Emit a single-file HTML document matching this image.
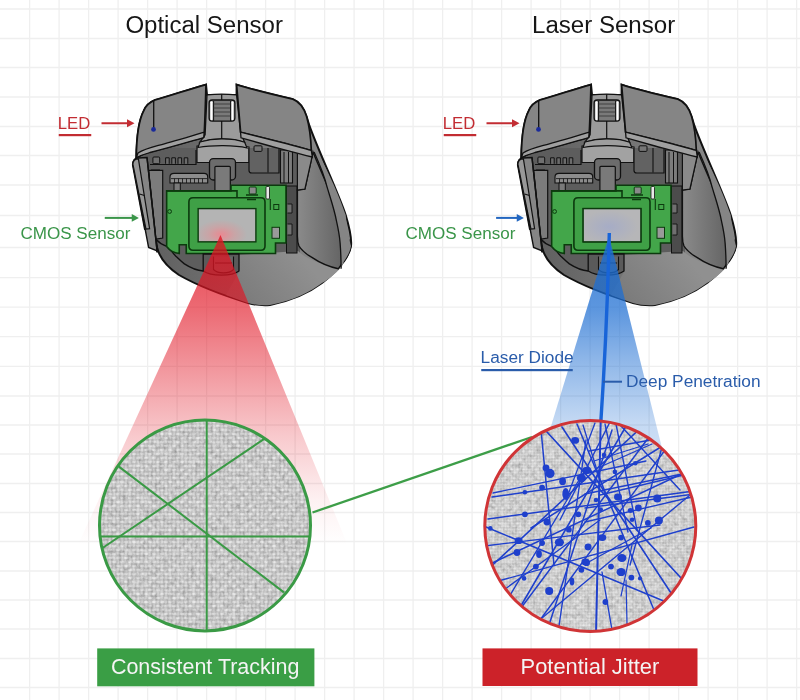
<!DOCTYPE html>
<html><head><meta charset="utf-8"><style>
html,body{margin:0;padding:0;background:#fff;}
svg{display:block;will-change:transform;}
text{font-family:"Liberation Sans",sans-serif;}
</style></head><body>
<svg width="800" height="700" viewBox="0 0 800 700">
<defs>
 <radialGradient id="gWinB" cx="0.45" cy="0.55" r="0.5"><stop offset="0" stop-color="#a6acc6"/><stop offset="1" stop-color="#b6b6b8"/></radialGradient>
 <linearGradient id="gBody" x1="150" y1="0" x2="330" y2="0" gradientUnits="userSpaceOnUse">
  <stop offset="0" stop-color="#5f5f5f"/><stop offset="0.5" stop-color="#747474"/><stop offset="1" stop-color="#8a8a8a"/>
 </linearGradient>
 <linearGradient id="gGrip" x1="298" y1="0" x2="340" y2="0" gradientUnits="userSpaceOnUse">
  <stop offset="0" stop-color="#8a8a8a"/><stop offset="1" stop-color="#666"/>
 </linearGradient>
 <linearGradient id="gShell" x1="300" y1="255" x2="240" y2="305" gradientUnits="userSpaceOnUse">
  <stop offset="0" stop-color="#909090"/><stop offset="1" stop-color="#7a7a7a"/>
 </linearGradient>
 <radialGradient id="gWin" cx="0.4" cy="0.78" r="0.45">
  <stop offset="0" stop-color="#e88a92"/><stop offset="0.5" stop-color="#c9a4a6"/><stop offset="1" stop-color="#b4b4b4"/>
 </radialGradient>
 <linearGradient id="gRed" x1="0" y1="235" x2="0" y2="545" gradientUnits="userSpaceOnUse">
  <stop offset="0" stop-color="#e11423" stop-opacity="0.8"/>
  <stop offset="0.242" stop-color="#e11423" stop-opacity="0.63"/>
  <stop offset="0.426" stop-color="#e11423" stop-opacity="0.45"/>
  <stop offset="0.648" stop-color="#e11423" stop-opacity="0.23"/>
  <stop offset="0.855" stop-color="#e11423" stop-opacity="0.06"/>
  <stop offset="1" stop-color="#e11423" stop-opacity="0.0"/>
 </linearGradient>
 <linearGradient id="gBlue" x1="0" y1="234" x2="0" y2="460" gradientUnits="userSpaceOnUse">
  <stop offset="0" stop-color="#1e6ed2" stop-opacity="0.85"/>
  <stop offset="0.336" stop-color="#1e6ed2" stop-opacity="0.72"/>
  <stop offset="0.558" stop-color="#1e6ed2" stop-opacity="0.5"/>
  <stop offset="0.836" stop-color="#1e6ed2" stop-opacity="0.26"/>
  <stop offset="1" stop-color="#1e6ed2" stop-opacity="0.2"/>
 </linearGradient>
 <pattern id="weave" width="8" height="8" patternUnits="userSpaceOnUse">
  <rect width="8" height="8" fill="#939393"/>
  <rect x="0.2" y="0.4" width="3.6" height="3.0" rx="1.3" fill="#d6d6d6"/>
  <rect x="4.2" y="4.4" width="3.6" height="3.0" rx="1.3" fill="#d6d6d6"/>
  <rect x="4.4" y="0.2" width="3.0" height="3.6" rx="1.3" fill="#c0c0c0"/>
  <rect x="0.4" y="4.2" width="3.0" height="3.6" rx="1.3" fill="#c0c0c0"/>
 </pattern>
 <pattern id="weave2" width="6" height="6" patternUnits="userSpaceOnUse">
  <rect width="6" height="6" fill="#a9a9a9"/>
  <rect x="0.2" y="0.3" width="2.6" height="2.3" rx="1" fill="#d6d6d6"/>
  <rect x="3.2" y="3.3" width="2.6" height="2.3" rx="1" fill="#d6d6d6"/>
  <rect x="3.3" y="0.2" width="2.3" height="2.6" rx="1" fill="#c8c8c8"/>
  <rect x="0.3" y="3.2" width="2.3" height="2.6" rx="1" fill="#c8c8c8"/>
 </pattern>
 <filter id="noise" x="0" y="0" width="100%" height="100%">
  <feTurbulence type="fractalNoise" baseFrequency="0.22" numOctaves="3" seed="5" result="t"/>
  <feColorMatrix type="matrix" values="1.2 0 0 0 0.15  1.2 0 0 0 0.15  1.2 0 0 0 0.15  0 0 0 0 0.45" />
 </filter>
 <g id="mouse">
 <!-- silhouette -->
 <path id="sil" d="M136.3,157.7 C136.5,140 139,120 143.7,110.9 C146,105 149,102.5 155.1,100 C170,96 190,89 206,84.6 L207,94.9 L236.6,94.9 L236.6,84.6 C252,89.5 275,95 292.9,99.2 C300,102 304,108 306.6,116.6 L309.4,125.7 C318,150 338,192 345.7,215 C349,226 352,238 351,246 C350,252 347,257 343.9,261.4 C337,270 330,277 322,283 C310,292 295,300 270,305 C262,305.5 255,305 248,303 C225,296 200,287 179,275 C167,267 160,259 157.2,248 C156,242 155.5,238 155.5,232 L144.9,228.9 L132.9,164.9 C133,161 135,158.5 138,158 Z" fill="url(#gBody)" stroke="#111" stroke-width="2"/>
 <!-- cavity -->
 <path d="M142,148 L300,148 L300,256 L240,258 L240,271 L203,271 C196,270.5 190,267.5 184.4,263.9 C180,260.5 178,258 175.6,256 C172,252 170,249 166.9,246.4 L157,239 L150,236 Z" fill="#5d5d5d"/>
 <!-- bottom shell right of lens -->
 <path d="M239,255 L298,251 C305,258 320,265 340.6,268 C335,274 328,280 322,283 C310,292 295,300 270,305 C262,305.5 255,305 248,303 C240,300 233,298 226,295 L239,272 Z" fill="url(#gShell)"/>
 <!-- inner rim line -->
 <path d="M155.9,239.3 C160,244 163,245 166.9,246.4 C170,249 172,252 175.6,256 C178,258 180,260.5 184.4,263.9 C190,267.5 196,270.5 203.2,271" fill="none" stroke="#111" stroke-width="1.4"/>
 <!-- middle housing lower light area -->
 <path d="M197,146 C212,143.5 234,143.5 249,147 L249,162.5 L197,162.5 Z" fill="#a2a2a2" stroke="#111" stroke-width="1.2"/>
 <!-- cavity components top-left -->
 <rect x="152.9" y="157" width="6.8" height="6.7" rx="1" fill="#707070" stroke="#111" stroke-width="1"/>
 <path d="M165.6,163.8 v-6 h3.6 v6 M171.8,163.8 v-6 h3.6 v6 M178,163.8 v-6 h3.6 v6 M184.2,163.8 v-6 h3.6 v6" fill="#6c6c6c" stroke="#111" stroke-width="1"/>
 <path d="M150,164.5 H196 V150" fill="none" stroke="#111" stroke-width="1.2"/>
 <path d="M151,170 H160" fill="none" stroke="#111" stroke-width="1"/>
 <!-- connector -->
 <path d="M170,183 V177 C170,174.5 171.5,173.4 174,173.4 H204 C206.5,173.4 207.7,174.5 207.7,177 V183 Z" fill="#8c8c8c" stroke="#111" stroke-width="1.1"/>
 <path d="M171,178.6 H207 M174.5,178.6 v4.4 M178.5,178.6 v4.4 M182.5,178.6 v4.4 M186.5,178.6 v4.4 M190.5,178.6 v4.4 M194.5,178.6 v4.4 M198.5,178.6 v4.4 M202.5,178.6 v4.4" stroke="#111" stroke-width="0.8"/>
 <rect x="174" y="183" width="6.3" height="8" fill="#7a7a7a" stroke="#111" stroke-width="1"/>
 <!-- middle lower component -->
 <rect x="209.5" y="158.6" width="26" height="21.4" rx="3.8" fill="#6c6c6c" stroke="#111" stroke-width="1.3"/>
 <rect x="214.9" y="166.3" width="15.4" height="24.5" rx="1" fill="#7a7a7a" stroke="#111" stroke-width="1.2"/>
 <!-- right top box in cavity -->
 <path d="M249,148 V170.5 C249,172.2 250,173 251.8,173 H279 V148" fill="#626262" stroke="#111" stroke-width="1.2"/>
 <path d="M268,148 V172.5" stroke="#111" stroke-width="1.1"/>
 <rect x="254" y="145.8" width="8" height="5.6" rx="1" fill="#767676" stroke="#111" stroke-width="1"/>
 <rect x="280.5" y="150" width="12" height="33" fill="#7c7c7c" stroke="#111" stroke-width="1.1"/>
 <path d="M284,152 V183 M288.5,152 V183" fill="none" stroke="#111" stroke-width="1"/>
 <!-- right strip components -->
 <rect x="286.5" y="186" width="10.5" height="67" fill="#4c4c4c" stroke="#111" stroke-width="1"/>
 <path d="M287.5,204 h4.5 v9 h-4.5 M287.5,224 h4.5 v11 h-4.5" fill="#707070" stroke="#111" stroke-width="0.9"/>
 <!-- right grip -->
 <path d="M313,152 C318,165 330,190 337,210 C343,228 349,238 351,246 C350,252 347,257 343.9,261.4 C341,265 339.5,267 338.3,268.8 C330,267 320,263 312.3,257.7 C306,254 302,251 299,246 C297.7,243 297.4,240 297.4,236 L297.4,190 L304.9,189 Z" fill="url(#gGrip)" stroke="#111" stroke-width="1.4"/>
 <path d="M314.1,151.9 C320,165 325,178 327.1,187.1 C331,200 334.5,210 336.4,220.6 C338.5,230 339.6,236 340.1,242.9 C340.8,252 341.1,260 341.1,268.8 L343.9,261.4 C347,257 350,252 351,246 C349,238 347,228 345.7,215 C338,192 325,165 316,150 Z" fill="#858585"/>
 <path d="M314.1,151.9 C320,165 325,178 327.1,187.1 C331,200 334.5,210 336.4,220.6 C338.5,230 339.6,236 340.1,242.9 C340.8,252 341.1,260 341.1,268.8" fill="none" stroke="#111" stroke-width="1.3"/>
 <!-- small right piece under right button -->
 <path d="M297.4,150 L312.3,155.6 L304.9,189 L297.4,190 Z" fill="#8a8a8a" stroke="#111" stroke-width="1.2"/>
 <!-- left side wall panel -->
 <path d="M148.6,170.4 L162.7,170.4 L162.7,238 L156,239 Z" fill="#7c7c7c" stroke="#111" stroke-width="1.2"/>
 <!-- side strip -->
 <path d="M132.9,164.2 C133,160.5 135,158.5 138.5,158 L147,157.5 L157.2,252.2 L156.4,250.6 L148.6,247.5 Z" fill="#858585" stroke="#111" stroke-width="1.4"/>
 <!-- side buttons -->
 <path d="M132.9,164.2 C133,160.5 135,158.8 138.4,158.8 L149.6,228.6 L146,229 Z" fill="#989898" stroke="#111" stroke-width="1.2"/>
 <path d="M139.5,194 L144.5,195.5" fill="none" stroke="#111" stroke-width="1.2"/>
 <path d="M147,157.5 L157.2,252.2" fill="none" stroke="#111" stroke-width="1.4"/>
 <!-- PCB -->
 <path d="M166.65,190.85 H231 V185.25 H286 V243 H275.5 V253.5 H186.25 V244.75 H179.25 V253.5 C174,253 170,251 166.65,246.5 Z" fill="#43a64a" stroke="#0c3a0e" stroke-width="1.6"/>
 <path d="M188.9,202 C188.9,199 190,197.8 193,197.8 H261 C264,197.8 265,199 265,202 V246 C265,249 264,250.2 261,250.2 H193 C190,250.2 188.9,249 188.9,246 Z" fill="#3fa046" stroke="#0c3a0e" stroke-width="1.6"/>
 <path d="M166.65,190.85 H237 V197.8" fill="none" stroke="#0c3a0e" stroke-width="1.6"/>
 <rect class="win" x="198.15" y="208.6" width="57.75" height="33.25" fill="url(#gWin)" stroke="#0c3a0e" stroke-width="1.4"/>
 <circle cx="169.6" cy="211.5" r="1.9" fill="none" stroke="#0c3a0e" stroke-width="1"/>
 <rect x="249.2" y="187" width="7" height="7" rx="1" fill="#8a8a8a" stroke="#0c3a0e" stroke-width="1"/>
 <path d="M246,195 H258 M247,199.5 H256" stroke="#0c3a0e" stroke-width="1.3"/>
 <rect x="266" y="186.5" width="3.5" height="12.5" rx="1" fill="#e8e8e8" stroke="#111" stroke-width="0.8"/>
 <path d="M270.3,199 V210" stroke="#0c3a0e" stroke-width="1.1"/>
 <rect x="273.8" y="204.5" width="5" height="5" fill="#43a64a" stroke="#0c3a0e" stroke-width="1"/>
 <rect x="272" y="227.3" width="7.5" height="11" fill="#9a9a9a" stroke="#0c3a0e" stroke-width="1"/>
 <!-- lens housing -->
 <path d="M203.2,254 H239 V271 C232,276.5 211,276.5 203.2,271 Z" fill="#5a5a5a" stroke="#111" stroke-width="1.3"/>
 <path d="M213.5,256.5 V269.5 C218,274 229,274 233.5,269.5 V256.5" fill="#676767" stroke="#111" stroke-width="1.1"/>
 <path d="M215,263 H232" stroke="#111" stroke-width="1"/>
 <!-- middle housing -->
 <path d="M207,94.9 C215,94 228,94 236.6,94.9 L240.6,132.6 L244.6,142.3 C235,139.5 225,138.9 221.7,138.9 C215,139 207,140 200,142 L205.1,134.9 Z" fill="#9b9b9b" stroke="#111" stroke-width="1.3"/>
 <path d="M200,142 C207,140 215,139 221.7,138.9 C228,138.9 238,139.5 244.6,142.3 L247,148 C235,145 212,145 198,147.5 Z" fill="#9d9d9d" stroke="#111" stroke-width="1.2"/>
 <path d="M221.7,94.3 V100 M221.7,121 V138.9" stroke="#111" stroke-width="1.2"/>
 <!-- scroll wheel -->
 <rect x="209.1" y="100" width="25.8" height="21.1" rx="3" fill="#7a7a7a" stroke="#111" stroke-width="1.3"/>
 <rect x="210.3" y="101.3" width="2.3" height="19" rx="1" fill="#fff"/>
 <rect x="231.3" y="101.3" width="2.3" height="19" rx="1" fill="#fff"/>
 <path d="M213.6,101 V121 M230.6,101 V121" stroke="#111" stroke-width="1"/>
 <path d="M213.7,104 H230.3 M213.7,108 H230.3 M213.7,112 H230.3 M213.7,116 H230.3" stroke="#3a3a3a" stroke-width="0.9"/>
 <!-- left button -->
 <path d="M136.3,157.7 C136.5,140 139,120 143.7,110.9 C146,105 149,102.5 155.1,100 C170,96 190,89 206,84.6 C205.5,100 205,120 204.3,131.4 L203.7,137.1 C190,141 170,147 150,152 C142,154 139,156 136.3,157.7 Z" fill="#858585" stroke="#111" stroke-width="1.7"/>
 <path d="M138,153 C145,148.5 155,146.5 164.3,143.8 C175,141 190,136.5 204.2,132.2 L203.7,137.6 C190,141.5 170,147.5 150,152.5 C143,154.5 139.5,156 136.3,157.7 Z" fill="#a0a0a0" stroke="#111" stroke-width="1.3"/>
 <!-- right button -->
 <path d="M236.6,84.6 C252,89.5 275,95 292.9,99.2 C300,102 304,108 306.6,116.6 C309,125 310.8,135 311.3,150.5 C300,147.5 292,145 287.1,143.8 C270,139.4 255,135.8 240.6,132.2 Z" fill="#858585" stroke="#111" stroke-width="1.7"/>
 <path d="M240.6,132.2 C255,135.8 270,139.4 287.1,143.8 C298,146.8 305,148.5 311.3,150.5 L312.3,157 C300,154 287,150.5 270,146 L241,137.8 Z" fill="#a0a0a0" stroke="#111" stroke-width="1.3"/>
 <!-- LED -->
 <path d="M153.7,100.8 V129" stroke="#111" stroke-width="1.3"/>
 <circle cx="153.5" cy="129.4" r="2.4" fill="#1a2a9a"/>
</g>

 <clipPath id="cL"><circle cx="205" cy="525.4" r="105.5"/></clipPath>
 <clipPath id="cR"><circle cx="590.3" cy="526.1" r="105.5"/></clipPath>
</defs>
<rect width="800" height="700" fill="#fff"/>
<path d="M29.6 0V700 M59.1 0V700 M88.6 0V700 M118.1 0V700 M147.6 0V700 M177.1 0V700 M206.6 0V700 M236.1 0V700 M265.6 0V700 M295.1 0V700 M324.6 0V700 M354.1 0V700 M383.6 0V700 M413.1 0V700 M442.6 0V700 M472.1 0V700 M501.6 0V700 M531.1 0V700 M560.6 0V700 M590.1 0V700 M619.6 0V700 M649.1 0V700 M678.6 0V700 M708.1 0V700 M737.6 0V700 M767.1 0V700 M796.6 0V700 M0 9.0H800 M0 38.5H800 M0 67.5H800 M0 97.0H800 M0 126.5H800 M0 155.5H800 M0 185.0H800 M0 215.5H800 M0 247.5H800 M0 277.6H800 M0 307.1H800 M0 336.7H800 M0 366.3H800 M0 396.0H800 M0 425.0H800 M0 454.0H800 M0 483.5H800 M0 512.5H800 M0 541.5H800 M0 571.0H800 M0 600.0H800 M0 629.0H800 M0 658.5H800 M0 687.5H800" stroke="#efefef" stroke-width="1.3" fill="none"/>

<text x="125.4" y="32.5" font-size="23.5" fill="#161616" textLength="157.6" lengthAdjust="spacingAndGlyphs">Optical Sensor</text>
<text x="532" y="32.5" font-size="23.5" fill="#161616" textLength="143.2" lengthAdjust="spacingAndGlyphs">Laser Sensor</text>
<text x="57.8" y="128.5" font-size="16" fill="#c22c32" textLength="32.5" lengthAdjust="spacingAndGlyphs">LED</text><rect x="58.75" y="134" width="32.5" height="2.2" fill="#c22c32"/><path d="M101.5 123.25 H128" stroke="#c22c32" stroke-width="2"/><path d="M127 119.3 L134.5 123.25 L127 127.2 Z" fill="#c22c32"/><text x="20.4" y="239.4" font-size="16" fill="#3a9549" textLength="110" lengthAdjust="spacingAndGlyphs">CMOS Sensor</text><path d="M104.75 217.9 H133" stroke="#3a9549" stroke-width="2"/><path d="M131.75 214 L138.9 217.9 L131.75 221.8 Z" fill="#3a9549"/>
<text x="442.8" y="128.5" font-size="16" fill="#c22c32" textLength="32.5" lengthAdjust="spacingAndGlyphs">LED</text><rect x="443.75" y="134" width="32.5" height="2.2" fill="#c22c32"/><path d="M486.5 123.25 H513" stroke="#c22c32" stroke-width="2"/><path d="M512 119.3 L519.5 123.25 L512 127.2 Z" fill="#c22c32"/><text x="405.4" y="239.4" font-size="16" fill="#3a9549" textLength="110" lengthAdjust="spacingAndGlyphs">CMOS Sensor</text><path d="M496.1 217.9 H518" stroke="#2266c0" stroke-width="2"/><path d="M516.75 214 L523.9 217.9 L516.75 221.8 Z" fill="#2266c0"/>
<use href="#mouse"/>
<use href="#mouse" transform="translate(385,0)"/>
<rect x="583.15" y="208.6" width="57.75" height="33.25" fill="url(#gWinB)" stroke="#0c3a0e" stroke-width="1.4"/>
<path d="M220.5,235 L73.3,555 L351.7,555 Z" fill="url(#gRed)"/>
<path d="M609,236 L540.7,460 L665,460 Z" fill="url(#gBlue)"/>
<path d="M609.3,233 Q607,330 600.7,424" fill="none" stroke="#1864d8" stroke-width="3.4"/>
<path d="M603,381.7 H622" stroke="#2a5caa" stroke-width="2"/>
<text x="480.6" y="362.9" font-size="16" fill="#2a5caa" textLength="93" lengthAdjust="spacingAndGlyphs">Laser Diode</text>
<rect x="481.25" y="369" width="91.5" height="2.2" fill="#2a5caa"/>
<text x="626" y="387" font-size="16" fill="#2a5caa" textLength="134.5" lengthAdjust="spacingAndGlyphs">Deep Penetration</text>
<path d="M312.5,512.5 L532,437" stroke="#3d9e48" stroke-width="2.3"/>
<g clip-path="url(#cL)"><rect x="99" y="419" width="212" height="213" fill="url(#weave)"/><rect x="99" y="419" width="212" height="213" filter="url(#noise)"/></g>
<g stroke="#3a9a45" stroke-width="2" fill="none" clip-path="url(#cL)"><path d="M206.7,419 V632"/><path d="M99,536.5 H311"/><path d="M117.9,465.9 L283.9,592.4"/><path d="M264.2,438.9 L102.5,548"/></g>
<circle cx="205" cy="525.4" r="105.5" fill="none" stroke="#3a9a45" stroke-width="3"/>
<g clip-path="url(#cR)"><rect x="484" y="420" width="213" height="213" fill="url(#weave2)"/><rect x="484" y="420" width="213" height="213" filter="url(#noise)"/>
<g stroke="#1f40cc" fill="none" stroke-linecap="round"><path d="M600.7,421 L596,634" stroke-width="2.0"/><path d="M541,430 L554,565" stroke-width="1.5"/><path d="M547,432 L681,578" stroke-width="1.7"/><path d="M562,427 L671,593" stroke-width="1.6"/><path d="M577,424 L654,610" stroke-width="1.5"/><path d="M605,424 L628,532" stroke-width="1.4"/><path d="M616,424 L637,530" stroke-width="1.4"/><path d="M621,426 L680,490" stroke-width="1.4"/><path d="M492,497 L679,470" stroke-width="1.5"/><path d="M488,519 L694,491" stroke-width="1.5"/><path d="M531,528 L672,440" stroke-width="1.5"/><path d="M484,573 L645,424" stroke-width="1.6"/><path d="M515,616 L625,428" stroke-width="1.6"/><path d="M550,622 L612,430" stroke-width="1.5"/><path d="M559,626 L586,440" stroke-width="1.4"/><path d="M542,618 L690,495" stroke-width="1.4"/><path d="M484,585 L694,527" stroke-width="1.4"/><path d="M484,546 L660,525" stroke-width="1.3"/><path d="M486,527 L690,612" stroke-width="1.5"/><path d="M602,572 L612,630" stroke-width="1.4"/><path d="M626,580 L627,624" stroke-width="1.2"/><path d="M632,545 L621,596" stroke-width="1.2"/><path d="M585,564 L651,528" stroke-width="1.4"/><path d="M589,451 L651,440" stroke-width="1.4"/><path d="M594,461 L648,444" stroke-width="1.3"/><path d="M600,467 L652,444" stroke-width="1.3"/><path d="M668,425 L630,565" stroke-width="1.4"/><path d="M585,494 L682,474" stroke-width="1.4"/><path d="M600,495 L692,473" stroke-width="1.3"/><path d="M585,508 L695,494" stroke-width="1.4"/><path d="M585,522 L692,497" stroke-width="1.3"/><path d="M690,470 L488,565" stroke-width="1.5"/><path d="M652,433 L518,612" stroke-width="1.5"/><path d="M668,446 L540,620" stroke-width="1.4"/><path d="M493,493 L646,461" stroke-width="1.3"/><path d="M610,422 L560,520" stroke-width="1.4"/><path d="M595,423 L566,500" stroke-width="1.3"/><path d="M583,425 L600,480" stroke-width="1.3"/><path d="M490,600 L600,520" stroke-width="1.3"/><path d="M500,612 L585,470" stroke-width="1.3"/></g>
<g fill="#1f40cc"><ellipse cx="575.1" cy="440.4" rx="4.0" ry="3.4"/><ellipse cx="550" cy="473.4" rx="4.6" ry="4.6"/><ellipse cx="546" cy="468" rx="3.4" ry="3.4"/><ellipse cx="562.6" cy="481.3" rx="3.4" ry="4.0"/><ellipse cx="565.7" cy="493.9" rx="3.4" ry="5.8"/><ellipse cx="581.4" cy="478.1" rx="4.6" ry="4.0"/><ellipse cx="586.1" cy="470.3" rx="4.0" ry="3.4"/><ellipse cx="542.1" cy="487.6" rx="2.9" ry="2.9"/><ellipse cx="524.9" cy="514.3" rx="2.9" ry="2.9"/><ellipse cx="546.9" cy="522.1" rx="3.4" ry="3.4"/><ellipse cx="578.3" cy="514.3" rx="2.9" ry="2.9"/><ellipse cx="524.9" cy="492.3" rx="2.3" ry="2.3"/><ellipse cx="490.3" cy="528.4" rx="2.3" ry="2.3"/><ellipse cx="587.4" cy="470.3" rx="4.0" ry="3.4"/><ellipse cx="618" cy="497" rx="4.0" ry="3.4"/><ellipse cx="657.3" cy="498.6" rx="4.0" ry="4.0"/><ellipse cx="638.4" cy="508" rx="3.4" ry="3.4"/><ellipse cx="630.6" cy="510.4" rx="2.9" ry="2.5"/><ellipse cx="658.9" cy="520.6" rx="4.0" ry="4.0"/><ellipse cx="647.9" cy="522.9" rx="2.9" ry="2.9"/><ellipse cx="632.1" cy="519.8" rx="2.3" ry="2.3"/><ellipse cx="600.7" cy="509.6" rx="2.3" ry="2.3"/><ellipse cx="635.3" cy="463.2" rx="2.3" ry="2.3"/><ellipse cx="614.9" cy="471.9" rx="2.3" ry="2.3"/><ellipse cx="518.6" cy="540.7" rx="4.0" ry="3.4"/><ellipse cx="517" cy="552.5" rx="3.4" ry="3.4"/><ellipse cx="539" cy="554" rx="2.9" ry="4.0"/><ellipse cx="535.9" cy="566.6" rx="2.9" ry="2.9"/><ellipse cx="542.1" cy="543.1" rx="2.9" ry="2.9"/><ellipse cx="559.4" cy="542.3" rx="4.6" ry="4.0"/><ellipse cx="568.9" cy="529.7" rx="2.9" ry="2.9"/><ellipse cx="549.2" cy="591" rx="4.0" ry="4.0"/><ellipse cx="585.4" cy="561.9" rx="4.0" ry="3.4"/><ellipse cx="581.4" cy="569.8" rx="2.9" ry="2.9"/><ellipse cx="587.7" cy="547" rx="2.9" ry="2.9"/><ellipse cx="572" cy="581.6" rx="2.3" ry="4.0"/><ellipse cx="524.1" cy="578.4" rx="2.3" ry="2.3"/><ellipse cx="602.3" cy="537.6" rx="4.0" ry="3.4"/><ellipse cx="588.1" cy="547" rx="3.4" ry="3.4"/><ellipse cx="621.9" cy="558" rx="4.6" ry="4.0"/><ellipse cx="621.1" cy="572.1" rx="4.6" ry="4.0"/><ellipse cx="611" cy="566.6" rx="2.9" ry="2.9"/><ellipse cx="631.4" cy="577.6" rx="2.9" ry="2.9"/><ellipse cx="640" cy="578.4" rx="2.1" ry="2.1"/><ellipse cx="605.4" cy="602" rx="2.9" ry="2.9"/><ellipse cx="586.6" cy="562.7" rx="3.4" ry="3.4"/><ellipse cx="621.1" cy="537.6" rx="2.9" ry="2.9"/><ellipse cx="596" cy="500" rx="2.3" ry="2.3"/><ellipse cx="604" cy="455" rx="2.3" ry="2.3"/></g></g>
<circle cx="590.3" cy="526.1" r="105.5" fill="none" stroke="#d03436" stroke-width="3"/>
<rect x="97.2" y="648.4" width="217.2" height="37.9" fill="#3a9e45"/>
<text x="110.9" y="674.4" font-size="21.3" fill="#f4f4f4" textLength="188.5" lengthAdjust="spacingAndGlyphs">Consistent Tracking</text>
<rect x="482.5" y="648.4" width="215" height="37.6" fill="#cc2229"/>
<text x="520.6" y="674.4" font-size="21.3" fill="#f4f4f4" textLength="138.7" lengthAdjust="spacingAndGlyphs">Potential Jitter</text>
</svg></body></html>
